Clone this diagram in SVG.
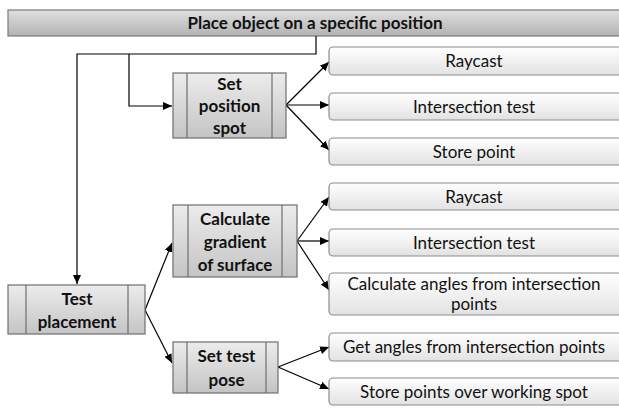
<svg xmlns="http://www.w3.org/2000/svg" width="619" height="408" viewBox="0 0 619 408">
<defs>
<linearGradient id="gTitle" x1="0" y1="0" x2="0" y2="1"><stop offset="0" stop-color="#e0e0e0"/><stop offset="1" stop-color="#b2b2b2"/></linearGradient>
<linearGradient id="gNode" x1="0" y1="0" x2="0" y2="1"><stop offset="0" stop-color="#ececec"/><stop offset="1" stop-color="#c4c4c4"/></linearGradient>
<linearGradient id="gLeaf" x1="0" y1="0" x2="0" y2="1"><stop offset="0" stop-color="#ffffff"/><stop offset="1" stop-color="#e2e2e2"/></linearGradient>
<marker id="arr" markerWidth="9" markerHeight="8" refX="9" refY="4" orient="auto" markerUnits="userSpaceOnUse"><path d="M0,0 L9,4 L0,8 Z" fill="#000"/></marker>
<style>
.title{fill:url(#gTitle);stroke:#7a7a7a;stroke-width:1.2}
.node{fill:url(#gNode);stroke:#6e6e6e;stroke-width:1.2}
.inner{stroke:#6e6e6e;stroke-width:1.2}
.leaf{fill:url(#gLeaf);stroke:#8c8c8c;stroke-width:1.2}
.b{font-family:Lato,"Liberation Sans",sans-serif;font-weight:bold;font-size:17px;fill:#111;text-anchor:middle}
.t{font-family:Lato,"Liberation Sans",sans-serif;font-size:17px;fill:#111;text-anchor:middle}
.c{fill:none;stroke:#000;stroke-width:1.2}
</style>
</defs>
<g id="title">
<rect class="title" x="8" y="10" width="620" height="26"/>
<text class="b" x="315" y="29" font-size="18">Place object on a specific position</text>
</g>
<g id="connectors">
<polyline class="c" points="316,36 316,54 77,54 77,284" marker-end="url(#arr)"/>
<polyline class="c" points="129,54 129,106 172,106" marker-end="url(#arr)"/>
<line class="c" x1="286" y1="105" x2="329" y2="62" marker-end="url(#arr)"/>
<line class="c" x1="286" y1="105" x2="329" y2="105" marker-end="url(#arr)"/>
<line class="c" x1="286" y1="105" x2="329" y2="150" marker-end="url(#arr)"/>
<line class="c" x1="145" y1="310" x2="172" y2="243" marker-end="url(#arr)"/>
<line class="c" x1="145" y1="310" x2="172" y2="363" marker-end="url(#arr)"/>
<line class="c" x1="297" y1="241" x2="329" y2="197" marker-end="url(#arr)"/>
<line class="c" x1="297" y1="241" x2="329" y2="241" marker-end="url(#arr)"/>
<line class="c" x1="297" y1="241" x2="329" y2="290" marker-end="url(#arr)"/>
<line class="c" x1="278" y1="367" x2="329" y2="347" marker-end="url(#arr)"/>
<line class="c" x1="278" y1="367" x2="329" y2="389" marker-end="url(#arr)"/>
</g>
<g id="set-position-spot">
<rect class="node" x="173" y="73" width="113" height="65"/>
<line class="inner" x1="187" y1="73" x2="187" y2="138"/>
<line class="inner" x1="272" y1="73" x2="272" y2="138"/>
<text class="b" x="229.5" y="90">Set</text>
<text class="b" x="229.5" y="112">position</text>
<text class="b" x="229.5" y="134">spot</text>
</g>
<g id="calculate-gradient">
<rect class="node" x="173" y="205" width="124" height="72"/>
<line class="inner" x1="188" y1="205" x2="188" y2="277"/>
<line class="inner" x1="282" y1="205" x2="282" y2="277"/>
<text class="b" x="235" y="225">Calculate</text>
<text class="b" x="235" y="248">gradient</text>
<text class="b" x="235" y="271">of surface</text>
</g>
<g id="test-placement">
<rect class="node" x="8" y="285" width="137" height="49"/>
<line class="inner" x1="26" y1="285" x2="26" y2="334"/>
<line class="inner" x1="128" y1="285" x2="128" y2="334"/>
<text class="b" x="77" y="305">Test</text>
<text class="b" x="77" y="328">placement</text>
</g>
<g id="set-test-pose">
<rect class="node" x="173" y="342" width="105" height="51"/>
<line class="inner" x1="187" y1="342" x2="187" y2="393"/>
<line class="inner" x1="266" y1="342" x2="266" y2="393"/>
<text class="b" x="226.5" y="362">Set test</text>
<text class="b" x="226.5" y="386">pose</text>
</g>
<g id="raycast-1">
<rect class="leaf" x="329" y="47" width="300" height="28" rx="4"/>
<text class="t" x="474" y="67">Raycast</text>
</g>
<g id="intersection-test-1">
<rect class="leaf" x="329" y="93" width="300" height="27" rx="4"/>
<text class="t" x="474" y="112.5">Intersection test</text>
</g>
<g id="store-point">
<rect class="leaf" x="329" y="138" width="300" height="27" rx="4"/>
<text class="t" x="474" y="157.5">Store point</text>
</g>
<g id="raycast-2">
<rect class="leaf" x="329" y="183" width="300" height="27" rx="4"/>
<text class="t" x="474" y="202.5">Raycast</text>
</g>
<g id="intersection-test-2">
<rect class="leaf" x="329" y="229" width="300" height="27" rx="4"/>
<text class="t" x="474" y="248.5">Intersection test</text>
</g>
<g id="calculate-angles">
<rect class="leaf" x="329" y="273" width="300" height="42" rx="4"/>
<text class="t" x="474" y="290">Calculate angles from intersection</text>
<text class="t" x="474" y="310">points</text>
</g>
<g id="get-angles">
<rect class="leaf" x="329" y="333" width="300" height="28" rx="4"/>
<text class="t" x="474" y="353">Get angles from intersection points</text>
</g>
<g id="store-points-over">
<rect class="leaf" x="329" y="378" width="300" height="27" rx="4"/>
<text class="t" x="474" y="397.5">Store points over working spot</text>
</g>
</svg>
